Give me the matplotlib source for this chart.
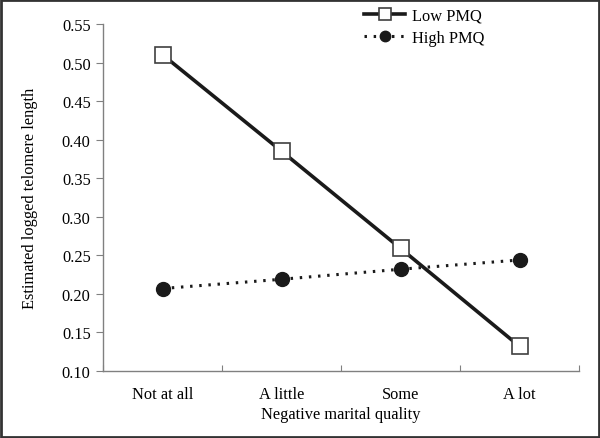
import matplotlib
matplotlib.use("Agg")
import matplotlib.pyplot as plt
import numpy as np
from matplotlib.patches import Rectangle

categories = ["Not at all", "A little", "Some", "A lot"]
low_pmq = [0.510, 0.385, 0.259, 0.132]
high_pmq = [0.207, 0.219, 0.232, 0.244]
yticks = [0.10, 0.15, 0.20, 0.25, 0.30, 0.35, 0.40, 0.45, 0.50, 0.55]

plt.rcParams['font.family'] = ['Liberation Serif', 'DejaVu Serif']
fs = 11.8
fig = plt.figure(figsize=(6.0, 4.39), dpi=100)
ax = fig.add_axes([0.172, 0.1526, 0.793, 0.7904])

x = np.arange(len(categories))
ax.plot(x, low_pmq, color='#1a1a1a', lw=2.6, marker='s', ms=11,
        mfc='white', mec='#404040', mew=1.2, label='Low PMQ', zorder=3)
ax.plot(x, high_pmq, color='#1a1a1a', lw=2.2, ls=(0, (0.8, 2.2)), marker='o', ms=10,
        mfc='#1a1a1a', mec='#1a1a1a', label='High PMQ', zorder=3)

ax.set_xlim(-0.5, len(categories) - 0.5)
ax.set_ylim(0.10, 0.55)
ax.set_yticks(yticks)
ax.set_yticklabels([f"{v:.2f}" for v in yticks])
ax.set_xticks(np.arange(-0.5, len(categories), 1.0))
ax.set_xticklabels([])
ax.set_xticks(x, minor=True)
ax.set_xticklabels(categories, minor=True)
ax.tick_params(axis='x', which='major', direction='in', length=4, color='#808080')
ax.tick_params(axis='x', which='minor', length=0, pad=11, labelsize=fs)
ax.tick_params(axis='y', direction='out', length=5, color='#808080', labelsize=fs, pad=4)

for s in ['top', 'right']:
    ax.spines[s].set_visible(False)
for s in ['left', 'bottom']:
    ax.spines[s].set_color('#808080')
    ax.spines[s].set_linewidth(1.0)

ax.set_xlabel('Negative marital quality', fontsize=fs, labelpad=3)
ax.set_ylabel('Estimated logged telomere length', fontsize=fs, labelpad=17)

leg = ax.legend(loc='upper left', bbox_to_anchor=(0.535, 1.067), frameon=False,
                fontsize=fs, handlelength=2.5, handletextpad=0.4, labelspacing=0.4,
                borderaxespad=0, markerscale=0.75)

fig.patches.append(Rectangle((0.002, 0.003), 0.996, 0.994, transform=fig.transFigure,
                             fill=False, ec='#333333', lw=2.0))

fig.savefig('out.png', dpi=100)
